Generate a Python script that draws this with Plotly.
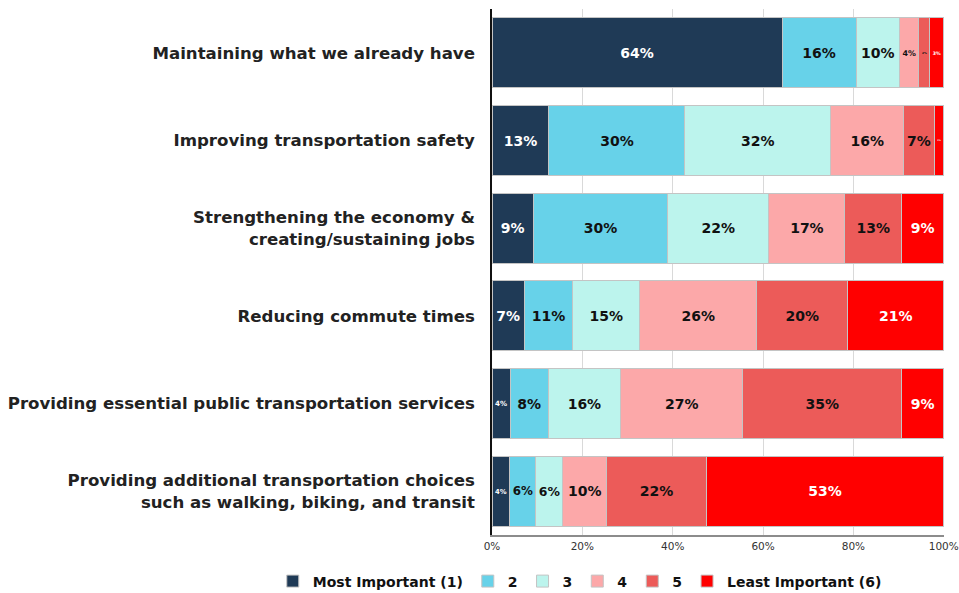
import plotly.graph_objects as go

categories = [
    "Maintaining what we already have",
    "Improving transportation safety",
    "Strengthening the economy &<br>creating/sustaining jobs",
    "Reducing commute times",
    "Providing essential public transportation services",
    "Providing additional transportation choices<br>such as walking, biking, and transit",
]
series_names = ["Most Important (1)", "2", "3", "4", "5", "Least Important (6)"]
values = {
    "Most Important (1)": [64.2, 12.6, 9.1, 7.1, 4.0, 3.9],
    "2": [16.4, 30.1, 29.8, 10.8, 8.4, 5.8],
    "3": [9.6, 32.3, 22.4, 14.8, 16.1, 6.0],
    "4": [4.3, 16.1, 16.8, 25.9, 27.0, 9.7],
    "5": [2.4, 6.8, 12.6, 20.1, 35.2, 22.0],
    "Least Important (6)": [3.1, 2.1, 9.3, 21.3, 9.3, 52.6],
}
tick_vals = [0, 20, 40, 60, 80, 100]
tick_text = ["0%", "20%", "40%", "60%", "80%", "100%"]

colors = ["#1f3a56", "#67d2e9", "#bcf4ed", "#fca8a9", "#ec5b59", "#ff0000"]
text_colors = ["white", "#111111", "#111111", "#111111", "#111111", "white"]
FONT = "DejaVu Sans"

fig = go.Figure()
for name, col, tc in zip(series_names, colors, text_colors):
    fig.add_trace(go.Bar(
        y=categories, x=values[name], name=name, orientation="h",
        marker=dict(color=col, line=dict(color="#c4c4c4", width=1)),
        texttemplate="<b>%{x:.0f}%</b>", textposition="inside", textangle=0,
        insidetextanchor="middle", constraintext="inside",
        insidetextfont=dict(family=FONT, size=14, color=tc),
        hoverinfo="x+name",
    ))

fig.update_layout(
    barmode="stack", bargap=0.2,
    width=959, height=593,
    margin=dict(l=492, r=15, t=9, b=58, autoexpand=False),
    plot_bgcolor="white", paper_bgcolor="white",
    font=dict(family=FONT, color="#222222"),
    legend=dict(orientation="h", x=-0.485, xanchor="left", y=-0.058, yanchor="top",
                font=dict(family=FONT, size=14, color="#111111", weight="bold"),
                traceorder="normal", itemwidth=30, tracegroupgap=0),
    xaxis=dict(range=[0, 100.05], tickvals=tick_vals, ticktext=tick_text,
               showgrid=True, gridcolor="#d9d9d9", gridwidth=1,
               showline=True, linecolor="#8c8c8c", linewidth=2,
               tickfont=dict(family=FONT, size=10.5, color="#333333"),
               ticklabeloverflow="allow",
               zeroline=False, fixedrange=True, automargin=False),
    yaxis=dict(autorange="reversed", showline=True, linecolor="#111111", linewidth=1.5,
               ticks="", ticklabelstandoff=12, automargin=False,
               tickfont=dict(family=FONT, size=16.6, color="#222222", weight="bold"),
               fixedrange=True),
)

fig.write_html(
    "out.html",
    config={"displayModeBar": False},
    post_script="document.body.style.margin='0';document.body.style.overflow='hidden';",
)
